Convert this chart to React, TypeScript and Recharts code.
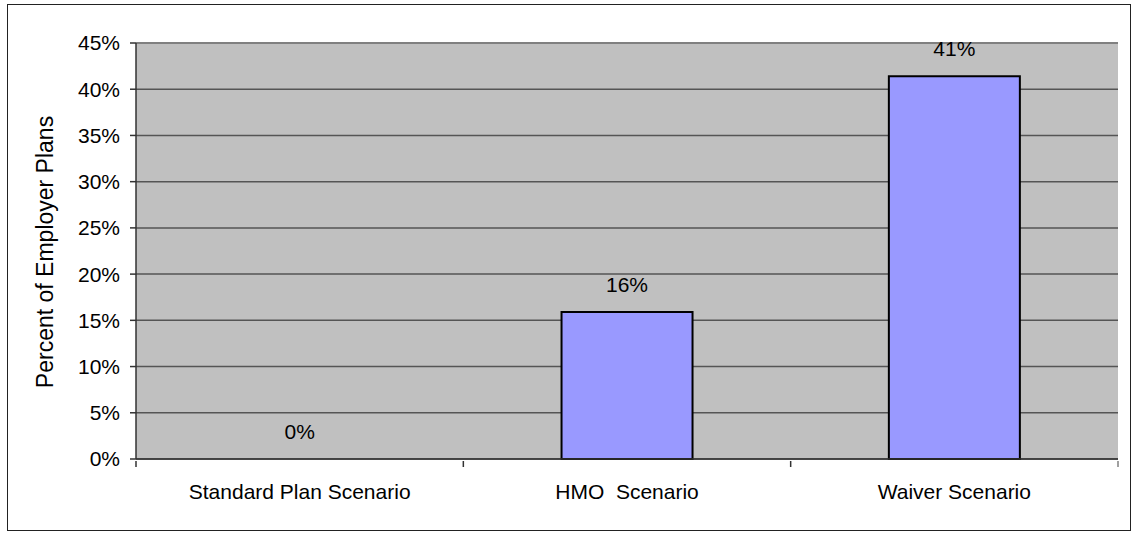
import { BarChart, Bar, XAxis, YAxis, CartesianGrid, LabelList, ReferenceLine, Cell } from "recharts"

const categories = ["Standard Plan Scenario", "HMO  Scenario", "Waiver Scenario"]
const planShares = [0, 15.9, 41.4]
const yTicks = [0, 5, 10, 15, 20, 25, 30, 35, 40, 45]

const data = categories.map((name, i) => ({ name, share: planShares[i] }))

const FONT = "'Liberation Sans', Arial, sans-serif"
const W = 1132
const H = 533
const PLOT_LEFT = 136
const PLOT_RIGHT = 1118
const HALF_BAND = (PLOT_RIGHT - PLOT_LEFT) / categories.length / 2

function CategoryTick(props: any) {
  const { x, y, payload, index } = props
  return (
    <g>
      {index === 0 && <line x1={x - HALF_BAND} x2={x - HALF_BAND} y1={y} y2={y + 6} stroke="#333" strokeWidth={1.5} />}
      <line x1={x + HALF_BAND} x2={x + HALF_BAND} y1={y} y2={y + 6} stroke={index === categories.length - 1 ? "#808080" : "#333"} strokeWidth={1.5} />
      <text x={x} y={y + 38} textAnchor="middle" fontSize={21} fontFamily={FONT} fill="#000" style={{ whiteSpace: "pre" }}>
        {payload.value}
      </text>
    </g>
  )
}

export default function App() {
  return (
    <div style={{ position: "absolute", left: 0, top: 0, width: W, height: H, background: "#fff" }}>
      <div
        style={{
          position: "absolute",
          left: 7,
          top: 4,
          width: 1124,
          height: 527,
          border: "1.5px solid #222",
          boxSizing: "border-box",
        }}
      />
      <BarChart
        width={W}
        height={H}
        data={data}
        margin={{ top: 43, right: 14, bottom: 0, left: 0 }}
        barCategoryGap="30%"
        style={{ position: "absolute", left: 0, top: 0 }}
      >
        <CartesianGrid fill="#C0C0C0" vertical={false} stroke="#555" strokeWidth={1.5} />
        <XAxis
          dataKey="name"
          height={74}
          tickLine={false}
          tickSize={0}
          tick={<CategoryTick />}
          axisLine={{ stroke: "#333", strokeWidth: 1.5 }}
          interval={0}
        />
        <YAxis
          width={136}
          domain={[0, 45]}
          ticks={yTicks}
          tickFormatter={(v: number) => `${v}%`}
          tick={{ fontSize: 21, fontFamily: FONT, fill: "#000" }}
          tickSize={6}
          tickMargin={10}
          tickLine={{ stroke: "#333", strokeWidth: 1.5 }}
          axisLine={{ stroke: "#333", strokeWidth: 1.5 }}
        />
        <YAxis
          yAxisId="frame"
          orientation="right"
          width={0}
          domain={[0, 45]}
          tick={false}
          tickLine={false}
          axisLine={{ stroke: "#808080", strokeWidth: 2 }}
        />
        <ReferenceLine y={45} stroke="#808080" strokeWidth={2} />
        <Bar dataKey="share" fill="#9999FF" stroke="#000" strokeWidth={2} minPointSize={0.5} isAnimationActive={false}>
          {data.map((d) => (
            <Cell key={d.name} fill={d.share === 0 ? "none" : "#9999FF"} stroke={d.share === 0 ? "none" : "#000"} />
          ))}
          <LabelList
            dataKey="share"
            position="top"
            offset={20}
            formatter={(v: any) => `${Math.round(Number(v))}%`}
            style={{ fontSize: 21, fontFamily: FONT, fill: "#000" }}
          />
        </Bar>
        <text
          x={45}
          y={252}
          transform="rotate(-90 45 252)"
          textAnchor="middle"
          dominantBaseline="central"
          fontSize={23}
          fontFamily={FONT}
          fill="#000"
        >
          Percent of Employer Plans
        </text>
      </BarChart>
    </div>
  )
}
